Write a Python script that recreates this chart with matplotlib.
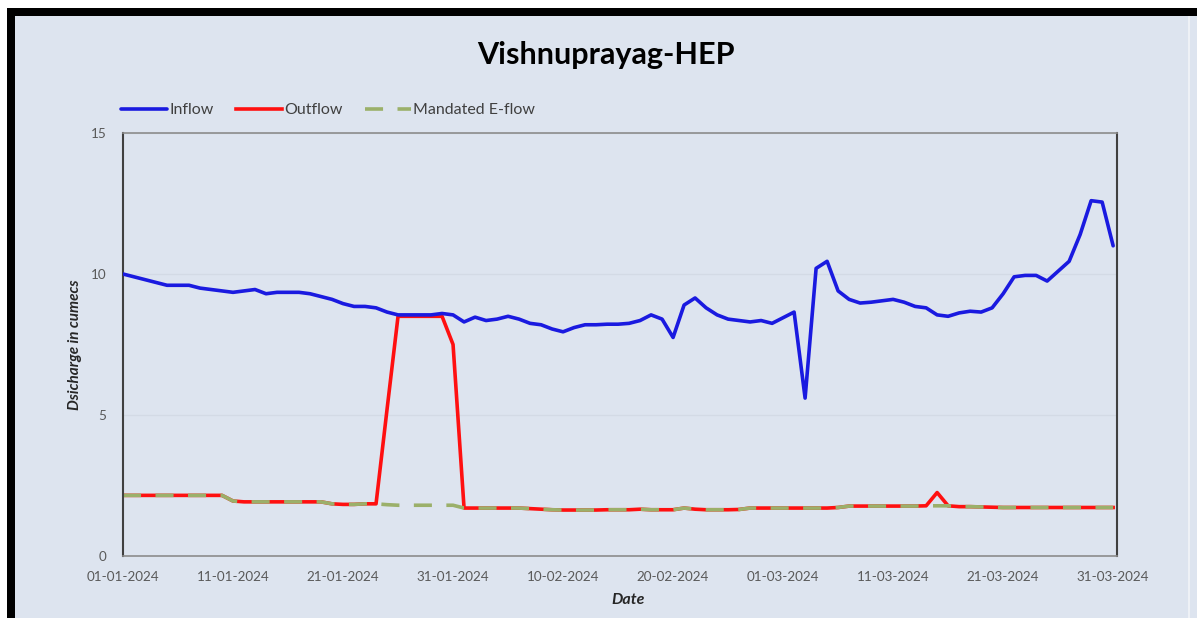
import matplotlib
matplotlib.use('Agg')
import matplotlib.pyplot as plt
import matplotlib.dates as mdates
from matplotlib.patches import Rectangle
import pandas as pd

# daily series, 01-01-2024 .. 31-03-2024 (91 days)
dates = pd.date_range('2024-01-01', '2024-03-31', freq='D')

inflow = [
    10.0, 9.9, 9.8, 9.7, 9.6, 9.6, 9.6, 9.5, 9.45, 9.4,
    9.35, 9.4, 9.45, 9.3, 9.35, 9.35, 9.35, 9.3, 9.2, 9.1,
    8.95, 8.85, 8.85, 8.8, 8.65, 8.55, 8.55, 8.55, 8.55, 8.6,
    8.55, 8.3, 8.47, 8.35, 8.4, 8.5, 8.4, 8.25, 8.2, 8.05,
    7.95, 8.1, 8.2, 8.2, 8.22, 8.22, 8.25, 8.35, 8.55, 8.4,
    7.75, 8.9, 9.15, 8.8, 8.55, 8.4, 8.35, 8.3, 8.35, 8.25,
    8.45, 8.65, 5.6, 10.2, 10.45, 9.4, 9.1, 8.97, 9.0, 9.05,
    9.1, 9.0, 8.85, 8.8, 8.55, 8.5, 8.62, 8.68, 8.65, 8.8,
    9.3, 9.9, 9.95, 9.95, 9.75, 10.1, 10.45, 11.4, 12.6, 12.55,
    11.0,
]

outflow = [
    2.15, 2.15, 2.15, 2.15, 2.15, 2.15, 2.15, 2.15, 2.15, 2.15,
    1.95, 1.92, 1.92, 1.92, 1.92, 1.92, 1.92, 1.92, 1.92, 1.85,
    1.83, 1.83, 1.85, 1.85, 5.2, 8.5, 8.5, 8.5, 8.5, 8.5,
    7.5, 1.7, 1.7, 1.7, 1.7, 1.7, 1.7, 1.68, 1.66, 1.64,
    1.63, 1.63, 1.63, 1.63, 1.64, 1.64, 1.64, 1.66, 1.64, 1.64,
    1.64, 1.7, 1.66, 1.64, 1.64, 1.64, 1.65, 1.7, 1.7, 1.7,
    1.7, 1.7, 1.7, 1.7, 1.7, 1.72, 1.77, 1.77, 1.77, 1.77,
    1.77, 1.77, 1.77, 1.78, 2.25, 1.78, 1.75, 1.75, 1.74, 1.73,
    1.72, 1.72, 1.72, 1.72, 1.72, 1.72, 1.72, 1.72, 1.72, 1.72,
    1.72,
]

eflow = [
    2.15, 2.15, 2.15, 2.15, 2.15, 2.15, 2.15, 2.15, 2.15, 2.15,
    1.95, 1.92, 1.92, 1.92, 1.92, 1.92, 1.92, 1.92, 1.92, 1.85,
    1.83, 1.83, 1.85, 1.85, 1.82, 1.8, 1.8, 1.8, 1.8, 1.8,
    1.8, 1.7, 1.7, 1.7, 1.7, 1.7, 1.7, 1.68, 1.66, 1.64,
    1.63, 1.63, 1.63, 1.63, 1.64, 1.64, 1.64, 1.66, 1.64, 1.64,
    1.64, 1.7, 1.66, 1.64, 1.64, 1.64, 1.65, 1.7, 1.7, 1.7,
    1.7, 1.7, 1.7, 1.7, 1.7, 1.72, 1.77, 1.77, 1.77, 1.77,
    1.77, 1.77, 1.77, 1.78, 1.78, 1.78, 1.75, 1.75, 1.74, 1.73,
    1.72, 1.72, 1.72, 1.72, 1.72, 1.72, 1.72, 1.72, 1.72, 1.72,
    1.72,
]

tick_dates = pd.date_range('2024-01-01', '2024-03-31', freq='10D')

bg = '#dde4ef'
W, H = 1197, 618
plt.rcParams['font.family'] = ['Lato', 'DejaVu Sans']

fig = plt.figure(figsize=(W / 100, H / 100), dpi=100, facecolor='white')

# screenshot frame: black band top and left, chart area inside
fig.patches.append(Rectangle((7 / W, 0), 1 - 7 / W, 1 - 8 / H, transform=fig.transFigure,
                             facecolor='black', edgecolor='none', zorder=-10))
fig.patches.append(Rectangle((15 / W, 0), 1 - 15 / W, 1 - 16 / H, transform=fig.transFigure,
                             facecolor=bg, edgecolor='none', zorder=-9))
fig.patches.append(Rectangle((1188 / W, 0), 2 / W, 1 - 16 / H, transform=fig.transFigure,
                             facecolor='#eef1f6', edgecolor='none', zorder=-8))

ax = fig.add_axes([123 / W, 1 - 556 / H, (1117 - 123) / W, (556 - 133) / H])
ax.set_facecolor(bg)

ax.plot(dates, inflow, color='#1a1ae0', lw=2.6, label='Inflow', zorder=3,
        solid_joinstyle='round', solid_capstyle='round')
ax.plot(dates, outflow, color='#ff1010', lw=2.6, label='Outflow', zorder=2,
        solid_joinstyle='round')
ax.plot(dates, eflow, color='#9bb06a', lw=2.6, ls=(0, (5, 4)), label='Mandated E-flow', zorder=2.5)

ax.set_ylim(0, 15)
ax.set_yticks([0, 5, 10, 15])
ax.set_xlim(dates[0], dates[0] + pd.Timedelta(days=90.35))
ax.set_xticks(tick_dates)
ax.xaxis.set_major_formatter(mdates.DateFormatter('%d-%m-%Y'))
ax.tick_params(axis='both', length=0, colors='#595959', labelsize=9.7)
ax.tick_params(axis='y', pad=12)
ax.tick_params(axis='x', pad=11)
ax.grid(axis='y', color='#d3dae5', lw=1)
ax.set_axisbelow(True)

for s in ['top', 'bottom']:
    ax.spines[s].set_color('#8c8c8c')
    ax.spines[s].set_linewidth(1.2)
for s in ['left', 'right']:
    ax.spines[s].set_color('#404040')
    ax.spines[s].set_linewidth(1.5)

fig.text(606 / W, 1 - 55 / H, 'Vishnuprayag-HEP', ha='center', va='center',
         fontsize=22, fontweight='bold', color='black')
fig.text(75 / W, 1 - 345 / H, 'Dsicharge in cumecs', ha='center', va='center',
         rotation=90, fontsize=11, fontweight='bold', style='italic', color='#262626')
fig.text(628 / W, 1 - 600 / H, 'Date', ha='center', va='center',
         fontsize=11.5, fontweight='bold', style='italic', color='#262626')

leg = fig.legend(loc='center left', bbox_to_anchor=(121 / W, 1 - 110 / H), ncol=3,
                 frameon=False, fontsize=11.5, handlelength=2.9, handletextpad=0.12,
                 columnspacing=1.4, borderpad=0, borderaxespad=0)
for t in leg.get_texts():
    t.set_color('#404040')

fig.savefig('out.png', dpi=100, facecolor='white')
